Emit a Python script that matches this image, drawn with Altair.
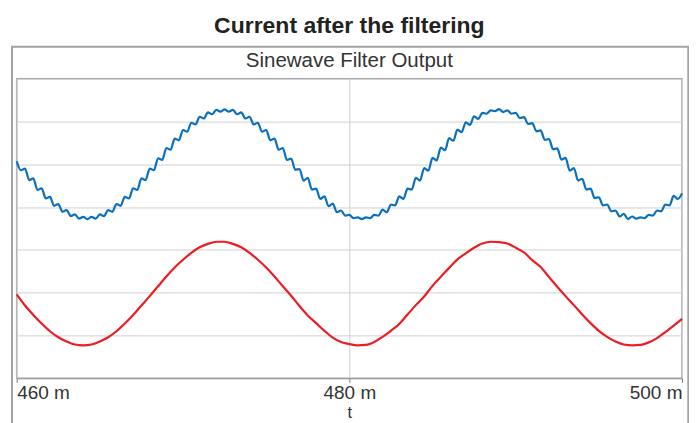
import altair as alt
import numpy as np
import pandas as pd

# ---------------- data ----------------
t_start = 460.0
blue_step = 0.25   # ms between blue samples
red_step = 0.5     # ms between red samples

blue_values = [
    5.07, 4.86, 4.90, 4.63, 4.67, 4.40, 4.44, 4.20, 4.24, 4.03,
    4.07, 3.89, 3.93, 3.79, 3.83, 3.73, 3.77, 3.72, 3.77, 3.73,
    3.83, 3.79, 3.93, 3.89, 4.07, 4.03, 4.24, 4.20, 4.44, 4.40,
    4.67, 4.63, 4.90, 4.86, 5.14, 5.10, 5.38, 5.34, 5.60, 5.56,
    5.80, 5.76, 5.97, 5.93, 6.11, 6.07, 6.21, 6.17, 6.27, 6.23,
    6.28, 6.23, 6.27, 6.17, 6.21, 6.07, 6.11, 5.93, 5.97, 5.76,
    5.80, 5.56, 5.60, 5.34, 5.38, 5.10,
    5.13, 4.87, 4.89, 4.62, 4.68, 4.41, 4.43, 4.19, 4.25, 4.02,
    4.08, 3.88, 3.92, 3.80, 3.82, 3.74, 3.76, 3.72, 3.76, 3.74,
    3.82, 3.80, 3.94, 3.88, 4.06, 4.04, 4.25, 4.19, 4.43, 4.41,
    4.68, 4.62, 4.91, 4.85, 5.15, 5.09, 5.39, 5.33, 5.61, 5.55,
    5.81, 5.75, 5.98, 5.92, 6.12, 6.06, 6.20, 6.18, 6.26, 6.24,
    6.29, 6.22, 6.26, 6.18, 6.20, 6.08, 6.10, 5.94, 5.96, 5.77,
    5.79, 5.57, 5.59, 5.35, 5.37, 5.11,
    5.15, 4.85, 4.91, 4.62, 4.66, 4.41, 4.43, 4.21, 4.23, 4.04,
    4.06, 3.90, 3.92, 3.78, 3.84, 3.72, 3.78, 3.73, 3.76, 3.74,
    3.82, 3.80, 3.92, 3.90, 4.06, 4.04, 4.26, 4.19, 4.32,
]

red_values = [
    1.96, 1.70, 1.48, 1.28, 1.10, 0.96, 0.86, 0.79, 0.77, 0.79,
    0.86, 0.96, 1.10, 1.28, 1.48, 1.70, 1.92, 2.15, 2.38, 2.59,
    2.77, 2.93, 3.06, 3.14, 3.19, 3.19, 3.14, 3.06, 2.93, 2.77,
    2.59, 2.38, 2.15,
    1.93, 1.69, 1.47, 1.29, 1.11, 0.95, 0.85, 0.80, 0.77, 0.78,
    0.85, 0.97, 1.11, 1.27, 1.49, 1.71, 1.91, 2.16, 2.37, 2.58,
    2.78, 2.92, 3.05, 3.15, 3.19, 3.18, 3.15, 3.05, 2.94, 2.76,
    2.60, 2.37, 2.14,
    1.92, 1.71, 1.49, 1.29, 1.11, 0.97, 0.86, 0.79, 0.77, 0.78,
    0.84, 0.94, 1.08, 1.23, 1.39,
]

x_domain = [460, 500]
x_ticks = [460, 480, 500]
y_domain = [0, 7]
y_grid = [1, 2, 3, 4, 5, 6]

chart_title = "Current after the filtering"
panel_title = "Sinewave Filter Output"
x_title = "t"

blue_color = "#0a6fbd"
red_color = "#ec1c24"
FONT = "Liberation Sans"

# ---------------- tables ----------------
blue_df = pd.DataFrame({
    "t": t_start + blue_step * np.arange(len(blue_values)),
    "v": blue_values,
})
red_df = pd.DataFrame({
    "t": t_start + red_step * np.arange(len(red_values)),
    "v": red_values,
})
label_df = pd.DataFrame({"label": [panel_title]})

W, H = 666, 300

x_scale = alt.Scale(domain=x_domain, nice=False, zero=False)
y_scale = alt.Scale(domain=y_domain, nice=False, zero=False)

x_axis = alt.Axis(
    values=x_ticks,
    labelExpr="datum.value + ' m'",
    labelFlush=True,
    grid=True,
    gridColor="#d0d0d0",
    gridWidth=1,
    domainColor="#9a9a9a",
    tickColor="#7a7a7a",
    tickSize=4,
    labelFontSize=19,
    labelColor="#333333",
    labelPadding=1,
    title=x_title,
    titleFontSize=16.5,
    titleFontWeight="normal",
    titleColor="#333333",
    titlePadding=2.5,
)
y_axis = alt.Axis(
    values=y_grid,
    labels=False,
    ticks=False,
    domain=False,
    title=None,
    grid=True,
    gridColor="#d0d0d0",
    gridWidth=1,
)

outer_box = alt.Chart(label_df).mark_rect(
    fillOpacity=0, stroke="#a3a3a3", strokeWidth=2
).encode(
    x=alt.value(-4.7), x2=alt.value(672.3),
    y=alt.value(-31.8), y2=alt.value(430),
)

red_line = alt.Chart(red_df).mark_line(
    color=red_color, strokeWidth=2.2, interpolate="monotone"
).encode(
    x=alt.X("t:Q", scale=x_scale, axis=x_axis),
    y=alt.Y("v:Q", scale=y_scale, axis=y_axis),
)
blue_line = alt.Chart(blue_df).mark_line(
    color=blue_color, strokeWidth=2.2, interpolate="monotone"
).encode(
    x=alt.X("t:Q", scale=x_scale, axis=x_axis),
    y=alt.Y("v:Q", scale=y_scale, axis=y_axis),
)

panel_text = alt.Chart(label_df).mark_text(
    fontSize=20.5, color="#333333", align="center", baseline="alphabetic"
).encode(
    x=alt.value(W / 2), y=alt.value(-11.8), text="label:N"
)

chart = alt.layer(outer_box, red_line, blue_line, panel_text).properties(
    width=W,
    height=H,
    title=alt.TitleParams(
        chart_title, fontSize=23, fontWeight="bold", color="#222222",
        anchor="middle", frame="group", offset=8,
    ),
    autosize=alt.AutoSizeParams(type="none"),
    padding={"left": 8.7, "top": 70.5, "right": 7, "bottom": 45},
).configure(font=FONT).configure_view(stroke="#a8a8a8", strokeWidth=1.5)

chart.save("out.html", embed_options={"renderer": "svg", "actions": False})
